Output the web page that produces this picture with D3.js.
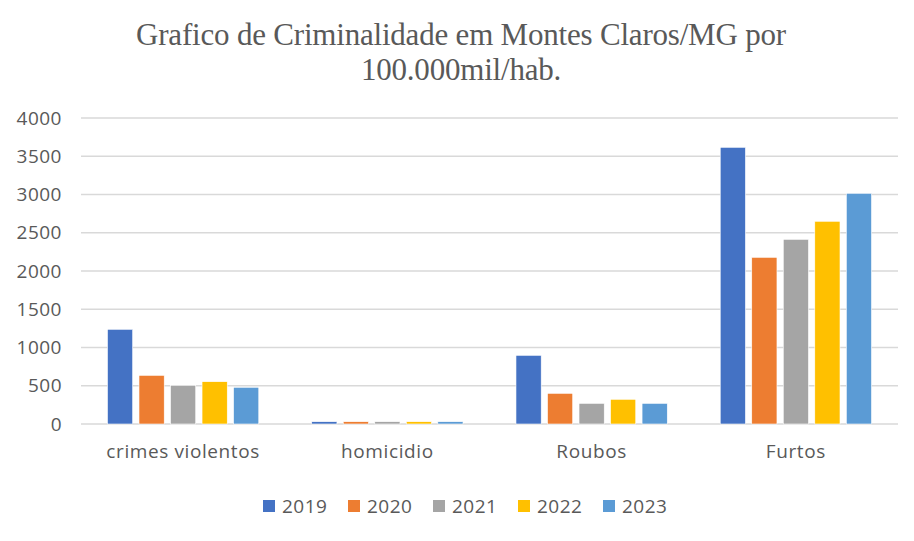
<!DOCTYPE html>
<html>
<head>
<meta charset="utf-8">
<script src="https://cdn.jsdelivr.net/npm/d3@7.9.0/dist/d3.min.js"></script>
<style>
  body { margin: 0; background: #fff; }
  text { font-family: "Open Sans", "Liberation Sans", sans-serif; }
</style>
</head>
<body>
<svg id="chart" width="914" height="541"></svg>
<script>
// Data
const categories = ['crimes violentos', 'homicidio', 'Roubos', 'Furtos'];
const years = ['2019', '2020', '2021', '2022', '2023'];
const values = {
  '2019': [1238, 30, 898, 3617],
  '2020': [636, 30, 401, 2179],
  '2021': [506, 30, 270, 2414],
  '2022': [553, 30, 323, 2650],
  '2023': [480, 30, 270, 3016]
};
const yTicks = [0, 500, 1000, 1500, 2000, 2500, 3000, 3500, 4000];
const colors = ['#4472C4', '#ED7D31', '#A5A5A5', '#FFC000', '#5B9BD5'];
const titleLines = ['Grafico de Criminalidade em Montes Claros/MG por', '100.000mil/hab.'];

const svg = d3.select('#chart');
const margin = {top: 118, left: 81, right: 16, bottom: 117};
const width = 914 - margin.left - margin.right;
const height = 541 - margin.top - margin.bottom;

// title
svg.selectAll('.title')
  .data(titleLines)
  .join('text')
  .attr('class', 'title')
  .attr('x', 461)
  .attr('y', (d, i) => 45 + i * 35)
  .attr('text-anchor', 'middle')
  .attr('fill', '#595959')
  .style('font-family', '"Liberation Serif", "DejaVu Serif", serif')
  .style('font-size', '31px')
  .style('letter-spacing', '-0.2px')
  .text(d => d);

const g = svg.append('g').attr('transform', `translate(${margin.left},${margin.top})`);

const x0 = d3.scaleBand().domain(categories).range([0, width]);
const x1 = d3.scaleBand().domain(years).range([0, x0.bandwidth()])
  .paddingInner(0.2).paddingOuter(0.84);
const y = d3.scaleLinear().domain([0, 4000]).range([height, 0]);
const color = d3.scaleOrdinal().domain(years).range(colors);

// gridlines
g.append('g')
  .selectAll('line')
  .data(yTicks)
  .join('line')
  .attr('x1', 0).attr('x2', width)
  .attr('y1', d => y(d)).attr('y2', d => y(d))
  .attr('stroke', '#d9d9d9')
  .attr('stroke-width', 1.3);

// y axis labels
const yAxis = g.append('g')
  .call(d3.axisLeft(y).tickValues(yTicks).tickFormat(d3.format('d')).tickSize(0).tickPadding(19));
yAxis.select('.domain').remove();
yAxis.selectAll('text')
  .attr('fill', '#595959')
  .style('font-size', '19px')
  .style('letter-spacing', '0.5px');

// bars
const groups = g.selectAll('.grp')
  .data(categories)
  .join('g')
  .attr('class', 'grp')
  .attr('transform', d => `translate(${x0(d)},0)`);

groups.selectAll('rect')
  .data((c, i) => years.map(yr => ({year: yr, value: values[yr][i]})))
  .join('rect')
  .attr('x', d => x1(d.year))
  .attr('width', x1.bandwidth())
  .attr('y', d => y(d.value))
  .attr('height', d => y(0) - y(d.value))
  .attr('fill', d => color(d.year))
  .attr('stroke', '#fff')
  .attr('stroke-width', 0.6);

// x axis labels
const xAxis = g.append('g')
  .attr('transform', `translate(0,${height})`)
  .call(d3.axisBottom(x0).tickSize(0).tickPadding(21));
xAxis.select('.domain').remove();
xAxis.selectAll('text')
  .attr('fill', '#595959')
  .style('font-size', '19px')
  .style('letter-spacing', '0.6px');

// legend
const legend = svg.append('g').attr('transform', 'translate(263,506)');
const item = legend.selectAll('g')
  .data(years)
  .join('g')
  .attr('transform', (d, i) => `translate(${i * 85},0)`);
item.append('rect')
  .attr('x', 0).attr('y', -6)
  .attr('width', 12).attr('height', 12)
  .attr('fill', d => color(d));
item.append('text')
  .attr('x', 19).attr('y', 0)
  .attr('dy', '0.35em')
  .attr('fill', '#595959')
  .style('font-size', '19px')
  .style('letter-spacing', '0.5px')
  .text(d => d);
</script>
</body>
</html>
